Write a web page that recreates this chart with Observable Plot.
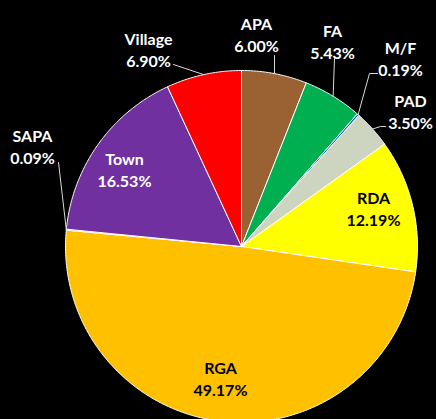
<!DOCTYPE html>
<html>
<head>
<meta charset="utf-8">
<script src="https://cdn.jsdelivr.net/npm/d3@7"></script>
<script src="https://cdn.jsdelivr.net/npm/@observablehq/plot@0.6"></script>
<style>
  html, body { margin: 0; padding: 0; background: #000; }
  #chart { width: 436px; height: 419px; overflow: hidden; }
</style>
</head>
<body>
<div id="chart"></div>
<script>
// ---- data ----
const categories = ["APA", "FA", "M/F", "PAD", "RDA", "RGA", "SAPA", "Town", "Village"];
const shares     = [6.00, 5.43, 0.19, 3.50, 12.19, 49.17, 0.09, 16.53, 6.90];
const labels     = ["6.00%", "5.43%", "0.19%", "3.50%", "12.19%", "49.17%", "0.09%", "16.53%", "6.90%"];
const colors     = ["#9a6233", "#00b050", "#0070c0", "#cdd5c1", "#ffff00", "#ffc000", "#00b0f0", "#7030a0", "#ff0000"];

// ---- layout (pixels) ----
const W = 436, H = 419;
const cx = 241, cy = 246, R = 176;
const labelPos = {
  "APA":     {x: 256, y: 33,  color: "#fff", leader: [[274, 55]]},
  "FA":      {x: 332, y: 40,  color: "#fff", leader: [[334, 58]]},
  "M/F":     {x: 400, y: 57,  color: "#fff", leader: [[369, 73], [377, 73]]},
  "PAD":     {x: 410, y: 110, color: "#fff", leader: [[380, 126], [385, 126]]},
  "RDA":     {x: 373, y: 207, color: "#000", leader: null},
  "RGA":     {x: 220, y: 377, color: "#000", leader: null},
  "SAPA":    {x: 32,  y: 145, color: "#fff", leader: [[58, 162]]},
  "Town":    {x: 124, y: 168, color: "#fff", leader: null},
  "Village": {x: 148, y: 48,  color: "#fff", leader: [[173, 64]]}
};

// ---- pie geometry from data ----
const total = d3.sum(shares);
const arcs = d3.pie().sort(null).value(d => d)(shares);
const pt = (a, r) => [cx + r * Math.sin(a), cy - r * Math.cos(a)];

const slicePts = [];
arcs.forEach((a, i) => {
  const n = Math.max(2, Math.ceil((a.endAngle - a.startAngle) / (Math.PI / 360)));
  const ring = [pt(0, 0)];
  for (let k = 0; k <= n; k++) {
    ring.push(pt(a.startAngle + (a.endAngle - a.startAngle) * k / n, R));
  }
  ring.push(pt(0, 0));
  ring.forEach(([x, y]) => slicePts.push({name: categories[i], color: colors[i], x, y}));
});

const leaderPts = [];
const textRows = [];
arcs.forEach((a, i) => {
  const name = categories[i];
  const L = labelPos[name];
  textRows.push({name, text: name + "\n" + labels[i], x: L.x, y: L.y, color: L.color});
  if (L.leader) {
    const mid = (a.startAngle + a.endAngle) / 2;
    const [ex, ey] = pt(mid, R);
    leaderPts.push({name, x: ex, y: ey});
    L.leader.forEach(([x, y]) => leaderPts.push({name, x, y}));
  }
});

const chart = Plot.plot({
  width: W,
  height: H,
  margin: 0,
  style: {background: "#000", fontFamily: "Lato, sans-serif"},
  x: {domain: [0, W], range: [0, W], axis: null},
  y: {domain: [0, H], range: [0, H], axis: null},
  color: {type: "identity"},
  marks: [
    Plot.line(slicePts, {x: "x", y: "y", z: "name", fill: "color", stroke: "#fff", strokeWidth: 1, strokeLinejoin: "round", curve: "linear"}),
    Plot.line(leaderPts, {x: "x", y: "y", z: "name", stroke: "#d9d9d9", strokeWidth: 1}),
    Plot.text(textRows, {x: "x", y: "y", text: "text", fill: "color", fontSize: 16, fontWeight: "bold", lineHeight: 1.38, lineAnchor: "middle", textAnchor: "middle"})
  ]
});
document.getElementById("chart").appendChild(chart);
</script>
</body>
</html>
